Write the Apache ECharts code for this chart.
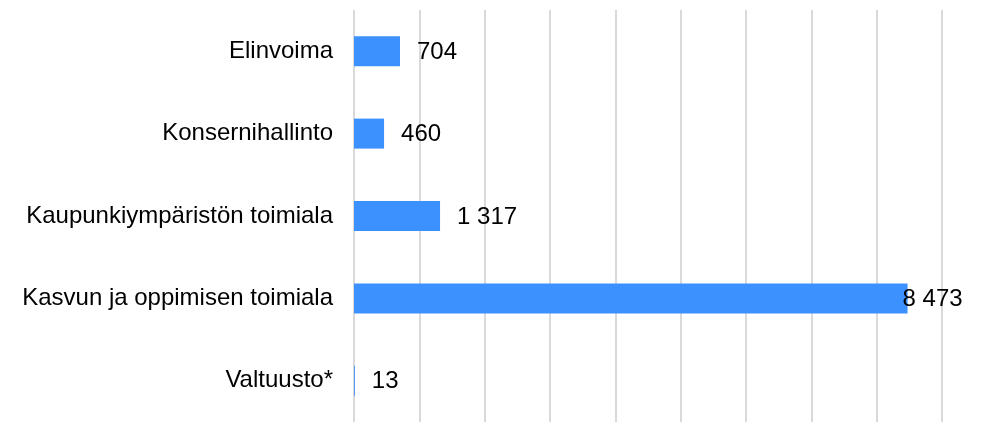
<!DOCTYPE html>
<html>
<head>
<meta charset="utf-8">
<script src="https://cdn.jsdelivr.net/npm/echarts@6/dist/echarts.min.js"></script>
<style>
html,body{margin:0;padding:0;background:#fff;}
#chart{width:982px;height:422px;}
</style>
</head>
<body>
<div id="chart"></div>
<script>
// categories top to bottom
var categories = ['Elinvoima', 'Konsernihallinto', 'Kaupunkiympäristön toimiala', 'Kasvun ja oppimisen toimiala', 'Valtuusto*'];
var values = [704, 460, 1317, 8473, 13];
var axisMax = 9000, axisStep = 1000;

function fmt(v){
    return String(v).replace(/\B(?=(\d{3})+(?!\d))/g, ' ');
}

var chart = echarts.init(document.getElementById('chart'));
var data = values.map(function(v){
    var item = {value: v};
    // label of the longest bar sits over the bar end, as in the original
    if (v === Math.max.apply(null, values)) {
        item.label = {offset: [-22, 1]};
    }
    return item;
});

chart.setOption({
    animation: false,
    grid: {left: 354, right: 40, top: 10, bottom: -4},
    xAxis: {
        type: 'value',
        min: 0,
        max: axisMax,
        interval: axisStep,
        axisLabel: {show: false},
        axisLine: {show: false},
        axisTick: {show: false},
        splitLine: {lineStyle: {color: '#d9d9d9', width: 2}}
    },
    yAxis: {
        type: 'category',
        inverse: true,
        data: categories,
        axisLine: {show: false},
        axisTick: {show: false},
        axisLabel: {
            margin: 21,
            color: '#000',
            fontSize: 24,
            padding: [2, 0, 0, 0],
            fontFamily: 'Liberation Sans, Arial, sans-serif'
        }
    },
    series: [{
        type: 'bar',
        data: data,
        barWidth: 30,
        itemStyle: {color: '#3d91ff'},
        label: {
            show: true,
            position: 'right',
            distance: 17,
            offset: [0, 1],
            color: '#000',
            fontSize: 24,
            fontFamily: 'Liberation Sans, Arial, sans-serif',
            formatter: function(p){ return fmt(p.value); }
        }
    }]
});
</script>
</body>
</html>
